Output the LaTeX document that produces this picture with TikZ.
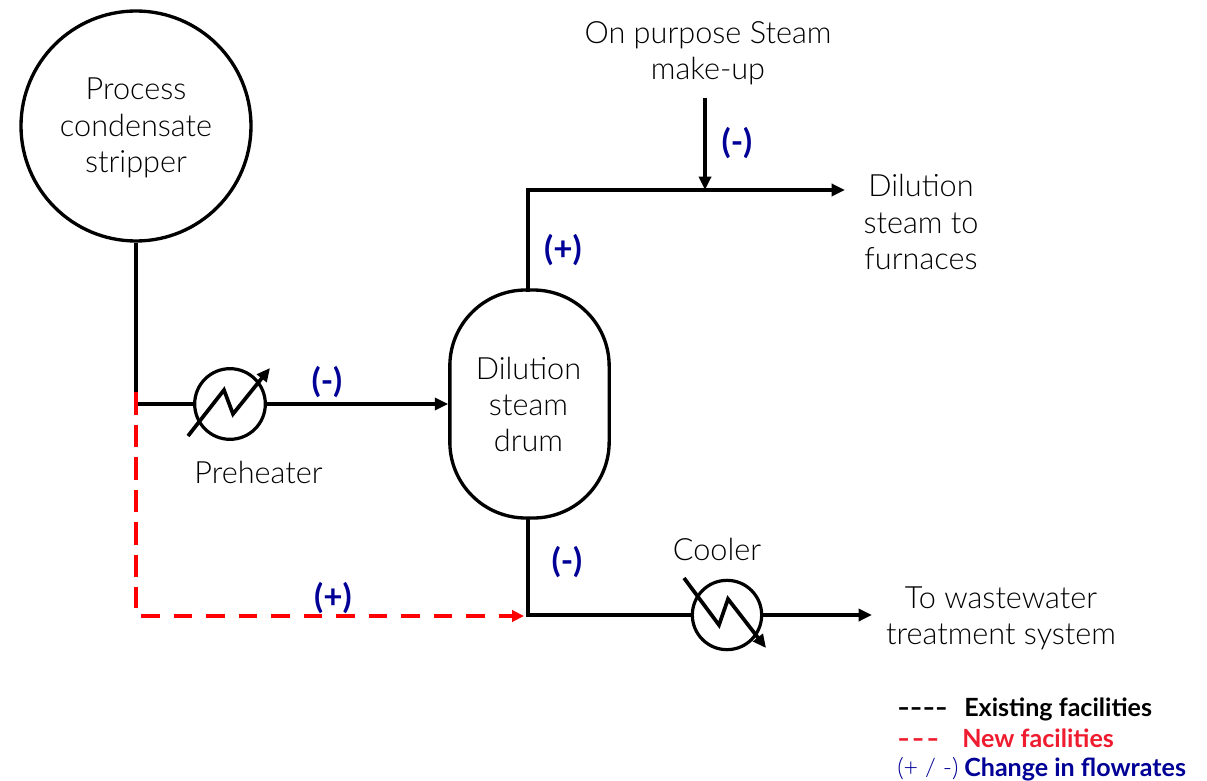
\documentclass[tikz,border=0pt]{standalone}
\usepackage{fontspec}
\usepackage{graphicx}
\setmainfont{Lato Light}[BoldFont=Lato Bold]
\usetikzlibrary{arrows.meta}
\definecolor{flowblue}{RGB}{0,0,150}
\definecolor{newred}{RGB}{238,28,46}
\newcommand{\lbl}{\fontsize{23}{27.3}\selectfont}
\newcommand{\flw}{\fontsize{25}{28}\selectfont\bfseries\color{flowblue}}
\newcommand{\lgd}{\fontsize{18.8}{22}\selectfont\bfseries}
\tikzset{
  x=0.75pt,y=-0.75pt,
  pipe/.style={line width=3pt,draw=black},
  flowpipe/.style={pipe,-{Triangle[length=10pt,width=9pt]}},
  newpipe/.style={line width=3pt,draw=red,dash pattern=on 14pt off 10.4pt},
  newpipev/.style={line width=3pt,draw=red,dash pattern=on 17pt off 7.4pt},
  vessel/.style={draw=black,line width=2.5pt,inner sep=0pt},
  hx/.style={circle,draw=black,line width=2.4pt,inner sep=0pt,fill=white},
  hxline/.style={line width=2.8pt,-{Triangle[length=10pt,width=9pt]}},
  txt/.style={align=center,text=black,inner sep=0pt,font=\lbl},
  flowmark/.style={inner sep=0pt,font=\flw},
  legendtext/.style={inner sep=0pt,anchor=base west,font=\lgd},
}
\begin{document}
\begin{tikzpicture}
\useasboundingbox (0,0) rectangle (1207,781);
% vessels
\node[vessel,circle,minimum size=172.5pt] (strip) at (136,126) {};
\node[txt] at (136,128) {Process\\condensate\\stripper};
\node[vessel,rounded corners=57pt,minimum width=119.5pt,minimum height=171pt] (drum) at (529.5,404) {};
\node[txt] at (528.5,404.5) {Dilution\\steam\\drum};
% exchangers
\node[hx,minimum size=53pt] (pre) at (230,404) {};
\node[hx,minimum size=52pt] (cool) at (727,615) {};
% junctions
\coordinate (j1) at (136,404);
\coordinate (jr) at (136,392);
\coordinate (jv) at (136,608);
\coordinate (jh) at (141,616);
\coordinate (redend) at (524,616);
\coordinate (j3) at (528,615);
\coordinate (top) at (528,190);
\coordinate (mk) at (705,190);
\coordinate (mkstart) at (705,98);
\coordinate (steamend) at (845,190);
\coordinate (wwend) at (872,615);
\coordinate (drumtop) at (528,290);
\coordinate (drumbot) at (528,518);
% pipes
\draw[pipe] (strip.south) -- (j1) -- (pre.west);
\draw[flowpipe] (pre.east) -- (drum.west);
\draw[pipe,line cap=rect] (drumtop) -- (top);
\draw[flowpipe] (top) -- (steamend);
\draw[flowpipe] (mkstart) -- (mk);
\draw[pipe] (drumbot) -- (j3) -- (cool.west);
\draw[flowpipe] (cool.east) -- (wwend);
\draw[newpipev] (jr) -- (jv);
\draw[newpipe,-{Triangle[length=9pt,width=8.5pt]}] (jh) -- (redend);
% exchanger symbols
\draw[hxline] (188,436) -- (224,390) -- (233,414) -- (270,368);
\draw[hxline] (684,578) -- (719,625) -- (728,599) -- (766,648);
% labels
\node[txt] at (258.5,472) {Preheater};
\node[txt] at (717,549.5) {Cooler};
\node[txt] at (708,53) {On purpose Steam\\make-up};
\node[txt] at (921,222) {Dilution\\steam to\\furnaces};
\node[txt] at (1001,618.5) {To wastewater\\treatment system};
% flow marks
\node[flowmark] at (737,143) {(-)};
\node[flowmark] at (563,250) {(+)};
\node[flowmark] at (327,382) {(-)};
\node[flowmark] at (567,562) {(-)};
\node[flowmark] at (333,598) {(+)};
% legend
\node[legendtext,text=black] at (897,716) {\scalebox{1.35}[1]{-{}-{}-{}-}};
\node[legendtext,text=black] at (964,716) {Existing facilities};
\node[legendtext,text=newred] at (897,747) {\scalebox{1.35}[1]{-\hspace{0.06em}-\hspace{0.06em}-}};
\node[legendtext,text=newred] at (962,747) {New facilities};
\node[legendtext,text=flowblue] at (897,776) {\fontseries{l}\selectfont(+ / -)};
\node[legendtext,text=flowblue] at (964,776) {Change in flowrates};
\end{tikzpicture}
\end{document}
